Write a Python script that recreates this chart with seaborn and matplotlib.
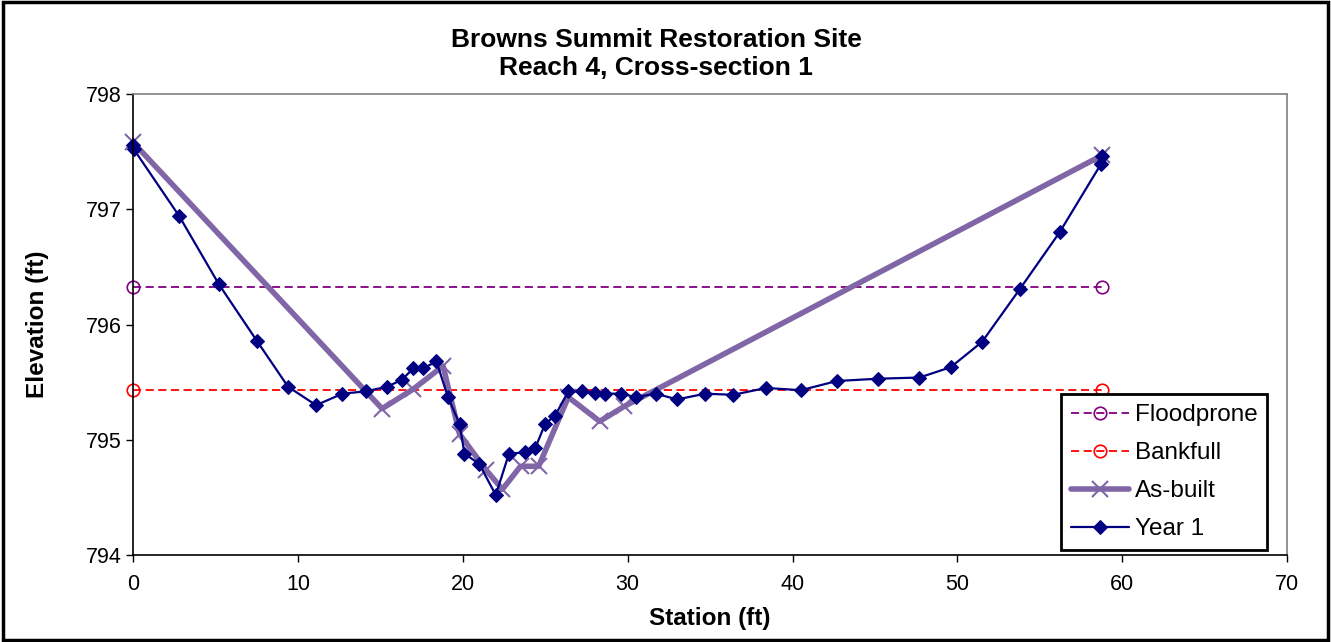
import matplotlib
matplotlib.use("Agg")
import matplotlib.pyplot as plt
from matplotlib.patches import Rectangle
import seaborn as sns
import pandas as pd

# Surveyed cross-section data (station ft, elevation ft)
year1_station = [0.0, 0.05, 2.8, 5.2, 7.5, 9.4, 11.1, 12.7, 14.1, 15.4, 16.3, 17.0, 17.6, 18.4,
                 19.1, 19.8, 20.1, 21.0, 22.0, 22.8, 23.8, 24.4, 25.0, 25.6, 26.4, 27.2, 28.0,
                 28.6, 29.6, 30.5, 31.7, 33.0, 34.7, 36.4, 38.4, 40.5, 42.7, 45.2, 47.7, 49.6,
                 51.5, 53.8, 56.2, 58.7, 58.8]
year1_elev = [797.56, 797.52, 796.94, 796.35, 795.86, 795.46, 795.30, 795.40, 795.42, 795.46,
              795.52, 795.62, 795.62, 795.68, 795.37, 795.14, 794.88, 794.79, 794.52, 794.88,
              794.89, 794.93, 795.14, 795.21, 795.42, 795.42, 795.41, 795.40, 795.40, 795.37,
              795.40, 795.35, 795.40, 795.39, 795.45, 795.43, 795.51, 795.53, 795.54, 795.63,
              795.85, 796.31, 796.80, 797.39, 797.46]

asbuilt_station = [0.0, 15.1, 17.0, 18.8, 19.8, 21.4, 22.4, 23.5, 24.6, 26.4, 28.3, 29.8, 58.8]
asbuilt_elev = [797.58, 795.27, 795.44, 795.64, 795.05, 794.74, 794.57, 794.77, 794.77, 795.37,
                795.16, 795.29, 797.47]

level_station = [0.0, 58.8]
floodprone_elev = [796.33, 796.33]
bankfull_elev = [795.43, 795.43]

series_names = ["Floodprone", "Bankfull", "As-built", "Year 1"]

sns.set_style("white")
plt.rcParams["font.family"] = ["Liberation Sans", "DejaVu Sans"]
plt.rcParams["text.color"] = "black"
plt.rcParams["axes.labelcolor"] = "black"
plt.rcParams["xtick.color"] = "black"
plt.rcParams["ytick.color"] = "black"

fig = plt.figure(figsize=(13.31, 6.42), dpi=100)
ax = fig.add_axes([0.1, 0.1355, 0.867, 0.718])

flood_df = pd.DataFrame({"Station": level_station, "Elevation": floodprone_elev})
bank_df = pd.DataFrame({"Station": level_station, "Elevation": bankfull_elev})
asb_df = pd.DataFrame({"Station": asbuilt_station, "Elevation": asbuilt_elev})
y1_df = pd.DataFrame({"Station": year1_station, "Elevation": year1_elev})

sns.lineplot(data=flood_df, x="Station", y="Elevation", ax=ax, sort=False, color="#800080",
             linestyle=(0, (4.5, 2.5)), linewidth=1.3, marker="o", markersize=9,
             markerfacecolor="none", markeredgecolor="#800080", markeredgewidth=1.2,
             label=series_names[0], clip_on=False)
sns.lineplot(data=bank_df, x="Station", y="Elevation", ax=ax, sort=False, color="#FF0000",
             linestyle=(0, (4.5, 2.5)), linewidth=1.3, marker="o", markersize=9,
             markerfacecolor="none", markeredgecolor="#FF0000", markeredgewidth=1.2,
             label=series_names[1], clip_on=False)
sns.lineplot(data=asb_df, x="Station", y="Elevation", ax=ax, sort=False, color="#8066A6",
             linewidth=4, marker="x", markersize=12, markeredgewidth=1.5,
             markeredgecolor="#8066A6", label=series_names[2], clip_on=False)
sns.lineplot(data=y1_df, x="Station", y="Elevation", ax=ax, sort=False, color="#000080",
             linewidth=1.6, marker="D", markersize=7, markeredgecolor="#000080",
             markerfacecolor="#000080", label=series_names[3], clip_on=False)

ax.set_xlim(0, 70)
ax.set_ylim(794, 798)
ax.set_xticks(range(0, 71, 10))
ax.set_yticks([794, 795, 796, 797, 798])
ax.tick_params(axis="both", labelsize=15.5, length=5, width=1, color="black",
               direction="out", bottom=True, left=True)
ax.tick_params(axis="x", pad=9)

for side in ("left", "bottom"):
    ax.spines[side].set_color("black")
    ax.spines[side].set_linewidth(1.2)
for side in ("top", "right"):
    ax.spines[side].set_color("#808080")
    ax.spines[side].set_linewidth(1.2)

ax.set_xlabel("Station (ft)", fontsize=17.5, fontweight="bold", labelpad=8)
ax.set_ylabel("Elevation (ft)", fontsize=17.5, fontweight="bold", labelpad=26)
fig.text(0.493, 1 - 54 / 642, "Browns Summit Restoration Site\nReach 4, Cross-section 1",
         ha="center", va="center", fontsize=19, fontweight="bold", linespacing=1.25)

leg = ax.legend(loc="lower right", bbox_to_anchor=(0.983, 0.011), fontsize=17.5, frameon=True,
                fancybox=False, edgecolor="black", framealpha=1, borderpad=0.4,
                handlelength=2.4, labelspacing=0.66, handletextpad=0.25,
                borderaxespad=0.0)
leg.get_frame().set_linewidth(2)

fig.patches.append(Rectangle((0.002, 0.003), 0.996, 0.994, transform=fig.transFigure,
                             fill=False, edgecolor="black", linewidth=2.5))

fig.savefig("out.png", dpi=100)
